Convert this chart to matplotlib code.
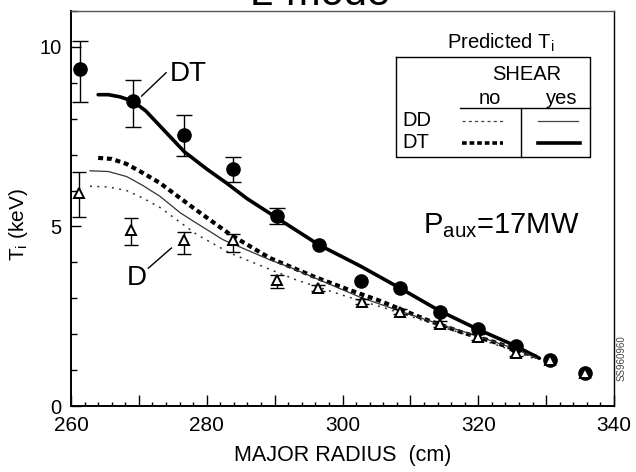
import matplotlib
matplotlib.use("Agg")
import matplotlib.pyplot as plt
from matplotlib.lines import Line2D
from matplotlib.ticker import MultipleLocator, FuncFormatter

plt.rcParams['font.family'] = ['Liberation Sans', 'DejaVu Sans']
plt.rcParams['mathtext.fontset'] = 'custom'
plt.rcParams['mathtext.rm'] = 'Liberation Sans'
plt.rcParams['mathtext.it'] = 'Liberation Sans:italic'

# measured ion temperature, DT plasma (filled circles)
r_dt = [261.3, 269.1, 276.7, 283.8, 290.4, 296.5, 302.7, 308.5, 314.3, 320.0, 325.6, 330.6, 335.7]
ti_dt = [9.39, 8.49, 7.56, 6.60, 5.28, 4.49, 3.47, 3.28, 2.61, 2.15, 1.67, 1.28, 0.91]
dt_err_hi = [0.77, 0.58, 0.55, 0.34, 0.23]
dt_err_lo = [0.93, 0.72, 0.59, 0.37, 0.20]

# measured ion temperature, D plasma (open triangles)
r_d = [261.2, 268.8, 276.7, 283.8, 290.3, 296.4, 302.8, 308.5, 314.3, 320.0, 325.6, 330.6, 335.7]
ti_d = [5.93, 4.89, 4.62, 4.61, 3.51, 3.29, 2.91, 2.63, 2.29, 1.93, 1.47, 1.28, 0.91]
d_err_hi = [0.60, 0.34, 0.22, 0.19, 0.14, 0.08, 0.08, 0.08, 0.08, 0.08, 0.08]
d_err_lo = [0.67, 0.42, 0.40, 0.32, 0.23, 0.08, 0.08, 0.08, 0.08, 0.08, 0.08]

# predicted Ti curves
r_dt_shear = [264.0, 265.5, 267.2, 269.1, 271.0, 273.0, 276.7, 280.0, 282.9, 285.9, 290.4, 296.5, 302.6, 308.5, 314.3, 320.0, 325.3, 329.0]
ti_dt_shear = [8.67, 8.67, 8.61, 8.49, 8.22, 7.82, 7.08, 6.60, 6.21, 5.78, 5.23, 4.49, 3.90, 3.28, 2.65, 2.13, 1.69, 1.33]

r_dt_noshear = [264.0, 266.0, 268.2, 270.5, 273.1, 278.0, 283.5, 289.3, 295.7, 300.6, 305.5, 312.4, 317.3, 322.2, 328.6]
ti_dt_noshear = [6.91, 6.88, 6.74, 6.50, 6.21, 5.52, 4.77, 4.12, 3.61, 3.26, 2.93, 2.40, 2.07, 1.79, 1.37]

r_dd_shear = [262.8, 265.5, 268.2, 270.5, 273.1, 276.1, 278.0, 282.4, 289.3, 292.3, 296.5, 302.6, 308.5, 314.3, 320.0, 325.6, 328.6]
ti_dd_shear = [6.55, 6.53, 6.39, 6.15, 5.84, 5.38, 5.15, 4.63, 4.07, 3.86, 3.52, 3.03, 2.64, 2.28, 1.94, 1.58, 1.33]

r_dd_noshear = [262.8, 265.5, 268.2, 270.5, 273.1, 278.5, 283.4, 288.3, 293.2, 300.6, 305.5, 310.0, 315.0, 320.0, 325.0, 328.5]
ti_dd_noshear = [6.12, 6.10, 6.00, 5.80, 5.53, 4.78, 4.26, 3.88, 3.51, 3.05, 2.77, 2.50, 2.18, 1.88, 1.55, 1.30]

W, H = 636, 472
fig = plt.figure(figsize=(W / 100, H / 100), dpi=100)
ax = fig.add_axes([71 / W, 1 - 406 / H, (614 - 71) / W, (406 - 11) / H])

def fx(x):
    return x / W

def fy(y):
    return 1 - y / H

# curves
ax.plot(r_dt_shear, ti_dt_shear, color='black', lw=2.6, solid_capstyle='round', zorder=3)
ax.plot(r_dt_noshear, ti_dt_noshear, color='black', lw=3.0, dashes=[1.2, 0.9], zorder=3)
ax.plot(r_dd_shear, ti_dd_shear, color='#333333', lw=0.9, zorder=3)
ax.plot(r_dd_noshear, ti_dd_noshear, color='#333333', lw=1.1, dashes=[1.3, 3.5], zorder=3)

# data with error bars
n = len(dt_err_hi)
ax.errorbar(r_dt[:n], ti_dt[:n], yerr=[dt_err_lo, dt_err_hi], fmt='none',
            ecolor='black', elinewidth=1.0, capsize=6, capthick=1.0, zorder=4)
m = len(d_err_hi)
ax.errorbar(r_d[:m], ti_d[:m], yerr=[d_err_lo, d_err_hi], fmt='none',
            ecolor='black', elinewidth=1.0, capsize=5, capthick=1.0, zorder=4)
ax.plot(r_dt, ti_dt, 'o', color='black', ms=9.5, zorder=5)
ax.plot(r_d, ti_d, '^', mfc='white', mec='black', mew=1.4, ms=7.5, zorder=6)

ax.set_xlim(260, 340)
ax.set_ylim(0, 11)

ax.xaxis.set_major_locator(MultipleLocator(10))
ax.xaxis.set_minor_locator(MultipleLocator(2))
ax.xaxis.set_major_formatter(FuncFormatter(lambda v, p: '%d' % v if int(round(v)) % 20 == 0 else ''))
ax.yaxis.set_major_locator(MultipleLocator(5))
ax.yaxis.set_minor_locator(MultipleLocator(1))
ax.tick_params(axis='x', which='major', direction='in', length=8, width=1.0, labelsize=15, pad=7.5)
ax.tick_params(axis='x', which='minor', direction='in', length=3, width=1.0)
ax.tick_params(axis='y', which='major', direction='in', length=7, width=1.0, labelsize=14.5, pad=7)
ax.tick_params(axis='y', which='minor', direction='in', length=4, width=1.0)

for s in ['left', 'bottom']:
    ax.spines[s].set_linewidth(1.4)
ax.spines['right'].set_linewidth(1.0)
ax.spines['top'].set_linewidth(1.0)
ax.spines['top'].set_color('#555555')

ax.set_xlabel('MAJOR RADIUS  (cm)', fontsize=15.5, labelpad=7)
ax.set_ylabel(r'T$_\mathrm{i}$ (keV)', fontsize=15)
ax.yaxis.set_label_coords(-0.075, 0.46)

# annotations
ax.text(274.6, 9.04, 'DT', fontsize=20, va='baseline', ha='left')
ax.plot([270.4, 274.0], [8.63, 9.28], color='black', lw=1.0)
ax.text(268.2, 3.37, 'D', fontsize=20, va='baseline', ha='left')
ax.plot([271.4, 274.8], [3.84, 4.40], color='black', lw=1.0)
ax.text(311.8, 4.82, r'P$_{\mathrm{aux}}$=17MW', fontsize=21, va='baseline', ha='left')

# title, mostly cropped at the top edge
fig.text(fx(320), fy(5), 'L-mode', fontsize=30, ha='center', va='baseline')

# side code
fig.text(fx(622), fy(358), 'SS960960', fontsize=7, rotation=90, ha='center', va='center', color='#444444')

# hand-drawn legend box
fig.text(fx(501), fy(43), r'Predicted T$_\mathrm{i}$', fontsize=14.5, ha='center', va='center')
box = [(396, 57), (590, 57), (590, 157), (396, 157), (396, 57)]
fig.add_artist(Line2D([fx(p[0]) for p in box], [fy(p[1]) for p in box], color='black', lw=1.0))
fig.add_artist(Line2D([fx(460), fx(590)], [fy(108), fy(108)], color='black', lw=1.0))
fig.add_artist(Line2D([fx(521), fx(521)], [fy(108), fy(157)], color='black', lw=1.0))
fig.text(fx(527), fy(75), 'SHEAR', fontsize=14.5, ha='center', va='center')
fig.text(fx(490), fy(98), 'no', fontsize=14.5, ha='center', va='center')
fig.text(fx(562), fy(98), 'yes', fontsize=14.5, ha='center', va='center')
fig.text(fx(402), fy(120), 'DD', fontsize=14.5, ha='left', va='center')
fig.text(fx(402), fy(142), 'DT', fontsize=14.5, ha='left', va='center')
fig.add_artist(Line2D([fx(462), fx(503)], [fy(121), fy(121)], color='#444444', lw=0.9, dashes=[2.5, 2.5]))
fig.add_artist(Line2D([fx(538), fx(578)], [fy(121), fy(121)], color='#444444', lw=0.9))
fig.add_artist(Line2D([fx(462), fx(503)], [fy(143), fy(143)], color='black', lw=2.6, dashes=[1.3, 0.8]))
fig.add_artist(Line2D([fx(538), fx(580)], [fy(143), fy(143)], color='black', lw=2.6))

fig.savefig('out.png', dpi=100)
